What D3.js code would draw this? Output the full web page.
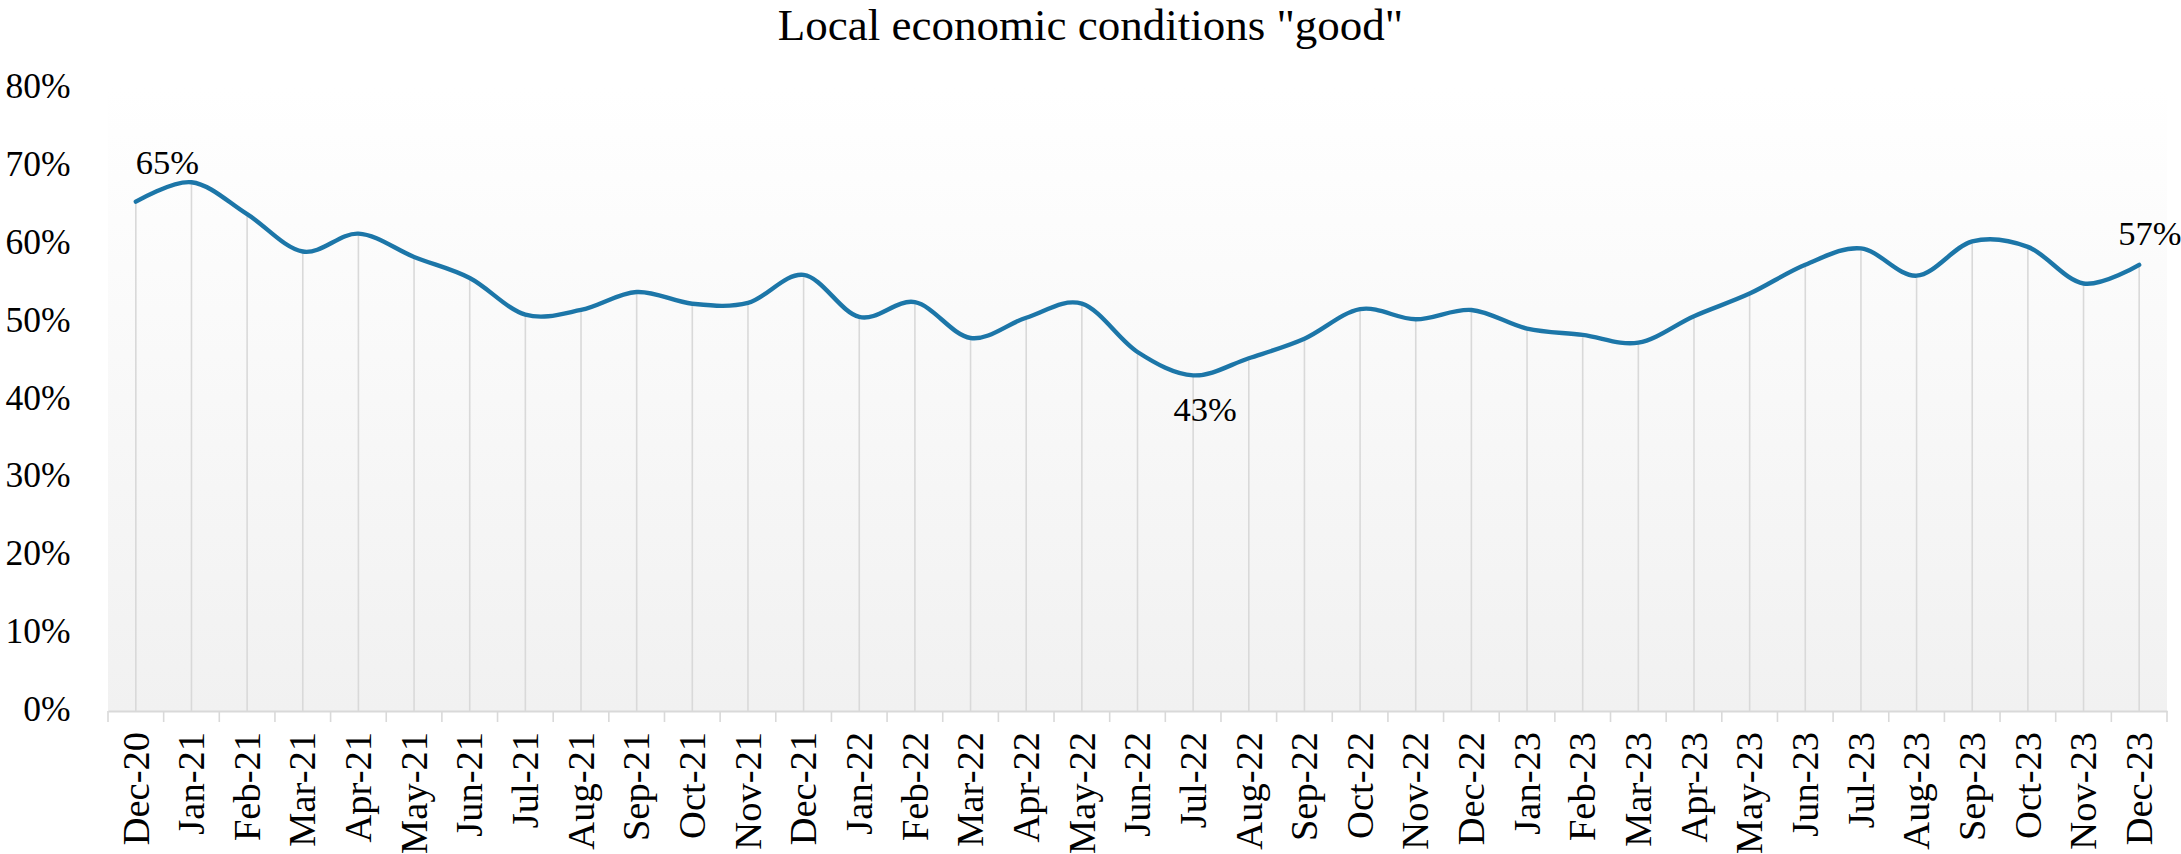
<!DOCTYPE html>
<html>
<head>
<meta charset="utf-8">
<script src="https://cdn.jsdelivr.net/npm/d3@7"></script>
<style>
  html, body { margin: 0; padding: 0; background: #ffffff; }
  svg { display: block; font-family: "Liberation Serif", "Times New Roman", serif; }
</style>
</head>
<body>
<svg id="chart" width="2181" height="854"></svg>
<script>
const title = 'Local economic conditions "good"';
const categories = [
  "Dec-20",
  "Jan-21","Feb-21","Mar-21","Apr-21","May-21","Jun-21","Jul-21","Aug-21","Sep-21","Oct-21","Nov-21","Dec-21",
  "Jan-22","Feb-22","Mar-22","Apr-22","May-22","Jun-22","Jul-22","Aug-22","Sep-22","Oct-22","Nov-22","Dec-22",
  "Jan-23","Feb-23","Mar-23","Apr-23","May-23","Jun-23","Jul-23","Aug-23","Sep-23","Oct-23","Nov-23","Dec-23"
];
const values = [
  65.4,
  67.9, 63.8, 59.0, 61.3, 58.3, 55.6, 50.9, 51.5, 53.8, 52.3, 52.4, 56.0,
  50.6, 52.5, 47.9, 50.5, 52.3, 46.1, 43.1, 45.3, 47.8, 51.6, 50.3, 51.5,
  49.1, 48.3, 47.3, 50.7, 53.6, 57.3, 59.4, 55.9, 60.3, 59.6, 54.9, 57.3
];
const yTicks = [0, 10, 20, 30, 40, 50, 60, 70, 80];
const labeledCategories = ["Dec-20", "Jul-22", "Dec-23"];

const svg = d3.select("#chart");
const plotLeft = 108, plotRight = 2167, plotTop = 88, plotBottom = 711;

const x = d3.scaleBand().domain(categories).range([plotLeft, plotRight]).padding(0);
const y = d3.scaleLinear().domain([0, 80]).range([plotBottom, plotTop]);
const cx = c => x(c) + x.bandwidth() / 2;

// plot area gradient
const defs = svg.append("defs");
const grad = defs.append("linearGradient").attr("id", "bg").attr("x1", 0).attr("y1", 0).attr("x2", 0).attr("y2", 1);
grad.append("stop").attr("offset", "0%").attr("stop-color", "#ffffff");
grad.append("stop").attr("offset", "100%").attr("stop-color", "#f1f1f1");
svg.append("rect").attr("x", plotLeft).attr("y", plotTop).attr("width", plotRight - plotLeft).attr("height", plotBottom - plotTop).attr("fill", "url(#bg)");

// title
svg.append("text").attr("x", 1090.5).attr("y", 40).attr("text-anchor", "middle")
  .attr("font-size", 45).attr("fill", "#000").text(title);

// y axis
const yAxis = svg.append("g").attr("transform", `translate(${plotLeft},0)`)
  .call(d3.axisLeft(y).tickValues(yTicks).tickSize(0).tickPadding(37.5).tickFormat(d => d + "%"));
yAxis.select(".domain").remove();
yAxis.selectAll("text").attr("font-size", 35.5).attr("font-family", "Liberation Serif, serif")
  .attr("fill", "#000").attr("dy", "0.27em");

// drop lines
const data = categories.map((c, i) => ({ c, v: values[i] }));
svg.append("g").selectAll("line").data(data).join("line")
  .attr("x1", d => cx(d.c)).attr("x2", d => cx(d.c))
  .attr("y1", d => y(d.v)).attr("y2", plotBottom)
  .attr("stroke", "#d9d9d9").attr("stroke-width", 1.6);

// x axis
const xAxis = svg.append("g").attr("transform", `translate(0,${plotBottom})`)
  .call(d3.axisBottom(x).tickSize(0).tickPadding(0));
xAxis.select(".domain").attr("stroke", "#d9d9d9").attr("stroke-width", 2);
xAxis.selectAll("text")
  .attr("font-size", 38.5).attr("font-family", "Liberation Serif, serif").attr("fill", "#000")
  .attr("text-anchor", "end")
  .attr("transform", "translate(0,21) rotate(-90)")
  .attr("dy", "0.33em").attr("y", 0).attr("x", 0);
// boundary tick marks
const bounds = categories.map(c => x(c)).concat([plotRight]);
svg.append("g").selectAll("line").data(bounds).join("line")
  .attr("x1", d => d).attr("x2", d => d).attr("y1", plotBottom).attr("y2", plotBottom + 11)
  .attr("stroke", "#d9d9d9").attr("stroke-width", 1.6);

// line
const line = d3.line().x(d => cx(d.c)).y(d => y(d.v)).curve(d3.curveCatmullRom.alpha(0));
svg.append("path").datum(data).attr("d", line)
  .attr("fill", "none").attr("stroke", "#1c76a8").attr("stroke-width", 4.4)
  .attr("stroke-linecap", "round").attr("stroke-linejoin", "round");

// data labels
const fmt = d3.format(".0f");
const labelPos = {
  "Dec-20": { dx: 0, dy: -28, anchor: "start" },
  "Jul-22": { dx: 12, dy: 46, anchor: "middle" },
  "Dec-23": { dx: -21, dy: -20, anchor: "start" }
};
svg.append("g").selectAll("text").data(data.filter(d => labeledCategories.includes(d.c))).join("text")
  .attr("x", d => cx(d.c) + labelPos[d.c].dx)
  .attr("y", d => y(d.v) + labelPos[d.c].dy)
  .attr("text-anchor", d => labelPos[d.c].anchor)
  .attr("font-size", 34.5).attr("fill", "#000")
  .text(d => fmt(d.v) + "%");
</script>
</body>
</html>
